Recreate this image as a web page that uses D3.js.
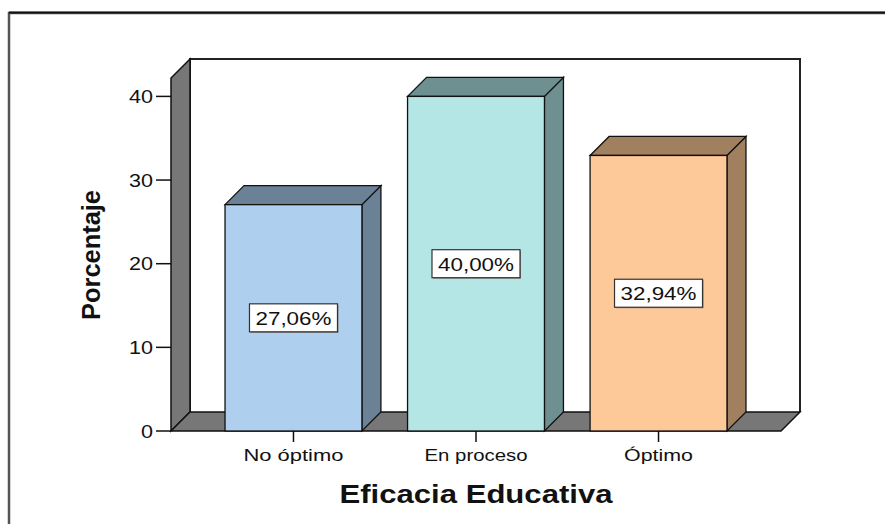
<!DOCTYPE html>
<html>
<head>
<meta charset="utf-8">
<script src="https://cdn.jsdelivr.net/npm/d3@7"></script>
<style>
  body { margin: 0; background: #fff; }
  svg { display: block; font-family: "Liberation Sans", Arial, sans-serif; }
</style>
</head>
<body>
<svg id="chart" width="885" height="524"></svg>
<script>
// data
const categories = ['No óptimo', 'En proceso', 'Óptimo'];
const percents = [27.06, 40.00, 32.94];
const labels = ['27,06%', '40,00%', '32,94%'];
const yTicks = [0, 10, 20, 30, 40];
const frontColors = ['#aecfee', '#b4e6e6', '#fec998'];
const sideColors = ['#6b8196', '#6e9090', '#a0805f'];

const svg = d3.select('#chart');
const dx = 19, dy = -19; // 3d depth
const wallGray = '#777777';

const x = d3.scaleBand()
  .domain(categories)
  .range([171, 781])
  .paddingInner(0.25)
  .paddingOuter(0.296);

const y = d3.scaleLinear().domain([0, 42.2]).range([431, 78]);

const x0 = 171, x1 = 781, yb = y(0), yt = y.range()[1];

// outer frame (runs off the right and bottom)
svg.append('path').attr('d', 'M9,530 V13 H890')
  .attr('fill', 'none').attr('stroke', '#555').attr('stroke-width', 2.5);
svg.append('line').attr('x1', 9).attr('x2', 890).attr('y1', 12.5).attr('y2', 12.5)
  .attr('stroke', '#111').attr('stroke-width', 2);

// back wall
svg.append('path')
  .attr('d', `M${x0 + dx},${yb + dy} V${yt + dy} H${x1 + dx} V${yb + dy}`)
  .attr('fill', '#fff').attr('stroke', '#222').attr('stroke-width', 2);

// left wall
svg.append('path')
  .attr('d', `M${x0},${yb} L${x0},${yt} L${x0 + dx},${yt + dy} L${x0 + dx},${yb + dy} Z`)
  .attr('fill', wallGray).attr('stroke', '#111').attr('stroke-width', 1.5);

// floor
svg.append('path')
  .attr('d', `M${x0},${yb} L${x1},${yb} L${x1 + dx},${yb + dy} L${x0 + dx},${yb + dy} Z`)
  .attr('fill', wallGray).attr('stroke', '#111').attr('stroke-width', 1.5);

// bars
const bars = svg.append('g').selectAll('g').data(categories).join('g');
bars.each(function (c, i) {
  const g = d3.select(this);
  const bx = x(c), bw = x.bandwidth(), top = y(percents[i]);
  g.append('path')
    .attr('d', `M${bx + bw},${yb} L${bx + bw},${top} L${bx + bw + dx},${top + dy} L${bx + bw + dx},${yb + dy} Z`)
    .attr('fill', sideColors[i]).attr('stroke', '#111').attr('stroke-width', 1.3);
  g.append('path')
    .attr('d', `M${bx},${top} L${bx + dx},${top + dy} L${bx + bw + dx},${top + dy} L${bx + bw},${top} Z`)
    .attr('fill', sideColors[i]).attr('stroke', '#111').attr('stroke-width', 1.3);
  g.append('rect')
    .attr('x', bx).attr('y', top).attr('width', bw).attr('height', yb - top)
    .attr('fill', frontColors[i]).attr('stroke', '#111').attr('stroke-width', 1.3);

  // value label box
  const cx = bx + bw / 2, cy = (top + yb) / 2;
  g.append('rect').attr('x', cx - 43).attr('y', cy - 13).attr('width', 88).attr('height', 28)
    .attr('fill', '#888');
  g.append('rect').attr('x', cx - 44).attr('y', cy - 14).attr('width', 88).attr('height', 28)
    .attr('fill', '#fff').attr('stroke', '#333').attr('stroke-width', 1.2);
  g.append('text').attr('x', cx).attr('y', cy + 7)
    .attr('text-anchor', 'middle').attr('font-size', 19)
    .attr('textLength', 76).attr('lengthAdjust', 'spacingAndGlyphs')
    .attr('fill', '#111').text(labels[i]);
});

// y axis
const yAxis = svg.append('g');
yAxis.selectAll('line').data(yTicks).join('line')
  .attr('x1', x0 - 15).attr('x2', x0).attr('y1', d => y(d)).attr('y2', d => y(d))
  .attr('stroke', '#111').attr('stroke-width', 1.5);
yAxis.selectAll('text').data(yTicks).join('text')
  .attr('x', x0 - 18).attr('y', d => y(d) + 6.5)
  .attr('text-anchor', 'end').attr('font-size', 18)
  .attr('textLength', d => String(d).length * 12).attr('lengthAdjust', 'spacingAndGlyphs')
  .attr('fill', '#111').text(d => d);

// x axis ticks and labels
const xTickWidths = [100, 103, 69];
const xAxis = svg.append('g');
xAxis.selectAll('line').data(categories).join('line')
  .attr('x1', d => x(d) + x.bandwidth() / 2).attr('x2', d => x(d) + x.bandwidth() / 2)
  .attr('y1', yb).attr('y2', yb + 11)
  .attr('stroke', '#111').attr('stroke-width', 1.5);
xAxis.selectAll('text').data(categories).join('text')
  .attr('x', d => x(d) + x.bandwidth() / 2).attr('y', 461)
  .attr('text-anchor', 'middle').attr('font-size', 17)
  .attr('textLength', (d, i) => xTickWidths[i]).attr('lengthAdjust', 'spacingAndGlyphs')
  .attr('fill', '#111').text(d => d);

// axis titles
svg.append('text').attr('x', 476).attr('y', 503)
  .attr('text-anchor', 'middle').attr('font-size', 25).attr('font-weight', 'bold')
  .attr('textLength', 273).attr('lengthAdjust', 'spacingAndGlyphs')
  .attr('fill', '#111').text('Eficacia Educativa');

svg.append('text').attr('transform', 'translate(100,255) rotate(-90)')
  .attr('text-anchor', 'middle').attr('font-size', 25).attr('font-weight', 'bold')
  .attr('textLength', 130).attr('lengthAdjust', 'spacingAndGlyphs')
  .attr('fill', '#111').text('Porcentaje');
</script>
</body>
</html>
